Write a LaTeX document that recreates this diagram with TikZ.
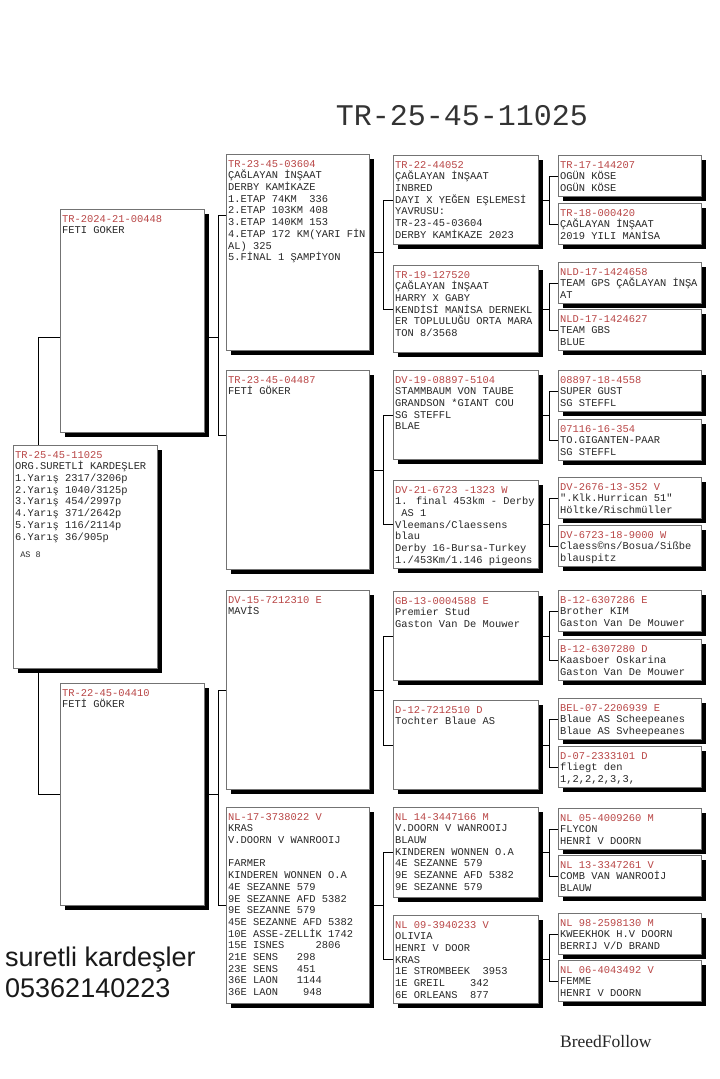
\documentclass[tikz,border=0pt]{standalone}
\usepackage{fontspec}
\setmainfont{Liberation Serif}
\newfontfamily\pedmono{Liberation Mono}
\newfontfamily\ownersans{Liberation Sans}
\usetikzlibrary{shadows}
\definecolor{idred}{RGB}{185,70,70}
\definecolor{ink}{RGB}{40,40,40}
\newcommand\pedfont{\pedmono\fontsize{10.4}{11.7}\selectfont}
\newcommand\ringno[1]{\textcolor{idred}{#1}\\}

\begin{document}
\begin{tikzpicture}[x=1pt, y=-1pt,
  frame/.style={draw=black!55, fill=white, line width=0.8pt, inner sep=0pt, anchor=north west, drop shadow={shadow xshift=5pt, shadow yshift=-5pt, fill=black, opacity=1}},
  gonebox/.style={frame, minimum width=144pt, minimum height=223pt},
  gthreebox/.style={frame, minimum width=143pt, minimum height=197pt},
  gfourbox/.style={frame, minimum width=145pt, minimum height=89pt},
  gfivebox/.style={frame, minimum width=143pt, minimum height=41pt},
  info/.style={anchor=north west, inner xsep=2pt, inner ysep=6pt, align=left, font=\pedfont, text=ink},
  link/.style={draw=black, line width=0.7pt}]

\fill[white] (0,0) rectangle (720,1079);
\useasboundingbox (0,0) rectangle (720,1079);

\node[font=\pedmono\fontsize{30}{36}\selectfont, text=black!80] (title) at (462,116) {TR-25-45-11025};

% parents
\node[gonebox] (n00448) at (60,209) {};
\node[info] (t00448) at (n00448.north west) {\ringno{TR-2024-21-00448}FETI GOKER};
\node[gonebox, minimum height=222pt] (n04410) at (60,683) {};
\node[info] (t04410) at (n04410.north west) {\ringno{TR-22-45-04410}FETİ GÖKER};

\draw[link] ([yshift=-16pt]n00448.west) -- ++(-22,0) |- (n04410.west);

% subject
\node[gonebox] (n11025) at (13,445) {};
\node[info] (t11025) at (n11025.north west) {\ringno{TR-25-45-11025}ORG.SURETLİ KARDEŞLER\\1.Yarış 2317/3206p\\2.Yarış 1040/3125p\\3.Yarış 454/2997p\\4.Yarış 371/2642p\\5.Yarış 116/2114p\\6.Yarış 36/905p\\[6pt]{\fontsize{8.5}{10}\selectfont~AS 8}};

% grandparents
\node[gthreebox, minimum height=196pt] (n03604) at (226,154) {};
\node[info] (t03604) at (n03604.north west) {\ringno{TR-23-45-03604}ÇAĞLAYAN İNŞAAT\\DERBY KAMİKAZE\\1.ETAP 74KM~~336\\2.ETAP 103KM 408\\3.ETAP 140KM 153\\4.ETAP 172 KM(YARI FİN\\AL) 325\\5.FİNAL 1 ŞAMPİYON};
\node[gthreebox, minimum height=199pt] (n04487) at (226,370) {};
\node[info] (t04487) at (n04487.north west) {\ringno{TR-23-45-04487}FETİ GÖKER};
\node[gthreebox, minimum height=199pt] (n7212310) at (226,590) {};
\node[info] (t7212310) at (n7212310.north west) {\ringno{DV-15-7212310 E}MAVİS};
\node[gthreebox, minimum height=196pt] (n3738022) at (226,807) {};
\node[info] (t3738022) at (n3738022.north west) {\ringno{NL-17-3738022 V}KRAS\\V.DOORN V WANROOIJ\\[11.7pt]FARMER\\KINDEREN WONNEN O.A\\4E SEZANNE 579\\9E SEZANNE AFD 5382\\9E SEZANNE 579\\45E SEZANNE AFD 5382\\10E ASSE-ZELLİK 1742\\15E ISNES~~~~~2806\\21E SENS~~~298\\23E SENS~~~451\\36E LAON~~~1144\\36E LAON~~~~948};

% great-grandparents
\node[gfourbox] (n44052) at (393,155) {};
\node[info] (t44052) at (n44052.north west) {\ringno{TR-22-44052}ÇAĞLAYAN İNŞAAT\\INBRED\\DAYI X YEĞEN EŞLEMESİ\\YAVRUSU:\\TR-23-45-03604\\DERBY KAMİKAZE 2023};
\node[gfourbox, minimum height=87pt] (n127520) at (393,265) {};
\node[info] (t127520) at (n127520.north west) {\ringno{TR-19-127520}ÇAĞLAYAN İNŞAAT\\HARRY X GABY\\KENDİSİ MANİSA DERNEKL\\ER TOPLULUĞU ORTA MARA\\TON 8/3568};
\node[gfourbox] (n5104) at (393,370) {};
\node[info] (t5104) at (n5104.north west) {\ringno{DV-19-08897-5104}STAMMBAUM VON TAUBE\\GRANDSON *GIANT COU\\SG STEFFL\\BLAE};
\node[gfourbox, minimum height=88pt] (n1323) at (393,480) {};
\node[info] (t1323) at (n1323.north west) {\ringno{DV-21-6723 -1323 W}1. final 453km - Derby\\~AS 1\\Vleemans/Claessens\\blau\\Derby 16-Bursa-Turkey\\1./453Km/1.146 pigeons};
\node[gfourbox] (n0004588) at (393,591) {};
\node[info] (t0004588) at (n0004588.north west) {\ringno{GB-13-0004588 E}Premier Stud\\Gaston Van De Mouwer};
\node[gfourbox] (n7212510) at (393,700) {};
\node[info] (t7212510) at (n7212510.north west) {\ringno{D-12-7212510 D}Tochter Blaue AS};
\node[gfourbox, minimum height=90pt] (n3447166) at (393,807) {};
\node[info] (t3447166) at (n3447166.north west) {\ringno{NL 14-3447166 M}V.DOORN V WANROOIJ\\BLAUW\\KINDEREN WONNEN O.A\\4E SEZANNE 579\\9E SEZANNE AFD 5382\\9E SEZANNE 579};
\node[gfourbox, minimum height=88pt] (n3940233) at (393,915) {};
\node[info] (t3940233) at (n3940233.north west) {\ringno{NL 09-3940233 V}OLIVIA\\HENRI V DOOR\\KRAS\\1E STROMBEEK~~3953\\1E GREIL~~~~342\\6E ORLEANS~~877};

% great-great-grandparents
\node[gfivebox] (n144207) at (558,155) {};
\node[info] (t144207) at (n144207.north west) {\ringno{TR-17-144207}OGÜN KÖSE\\OGÜN KÖSE};
\node[gfivebox] (n000420) at (558,203) {};
\node[info] (t000420) at (n000420.north west) {\ringno{TR-18-000420}ÇAĞLAYAN İNŞAAT\\2019 YILI MANİSA};
\node[gfivebox] (n1424658) at (558,262) {};
\node[info] (t1424658) at (n1424658.north west) {\ringno{NLD-17-1424658}TEAM GPS ÇAĞLAYAN İNŞA\\AT};
\node[gfivebox] (n1424627) at (558,309) {};
\node[info] (t1424627) at (n1424627.north west) {\ringno{NLD-17-1424627}TEAM GBS\\BLUE};
\node[gfivebox] (n4558) at (558,370) {};
\node[info] (t4558) at (n4558.north west) {\ringno{08897-18-4558}SUPER GUST\\SG STEFFL};
\node[gfivebox] (n354) at (558,419) {};
\node[info] (t354) at (n354.north west) {\ringno{07116-16-354}TO.GIGANTEN-PAAR\\SG STEFFL};
\node[gfivebox] (n352) at (558,477) {};
\node[info] (t352) at (n352.north west) {\ringno{DV-2676-13-352 V}".Klk.Hurrican 51"\\Höltke/Rischmüller};
\node[gfivebox] (n9000) at (558,525) {};
\node[info] (t9000) at (n9000.north west) {\ringno{DV-6723-18-9000 W}Claess©ns/Bosua/Sißbe\\blauspitz};
\node[gfivebox] (n6307286) at (558,590) {};
\node[info] (t6307286) at (n6307286.north west) {\ringno{B-12-6307286 E}Brother KIM\\Gaston Van De Mouwer};
\node[gfivebox] (n6307280) at (558,639) {};
\node[info] (t6307280) at (n6307280.north west) {\ringno{B-12-6307280 D}Kaasboer Oskarina\\Gaston Van De Mouwer};
\node[gfivebox] (n2206939) at (558,698) {};
\node[info] (t2206939) at (n2206939.north west) {\ringno{BEL-07-2206939 E}Blaue AS Scheepeanes\\Blaue AS Svheepeanes};
\node[gfivebox] (n2333101) at (558,746) {};
\node[info] (t2333101) at (n2333101.north west) {\ringno{D-07-2333101 D}fliegt den\\1,2,2,2,3,3,};
\node[gfivebox] (n4009260) at (558,808) {};
\node[info] (t4009260) at (n4009260.north west) {\ringno{NL 05-4009260 M}FLYCON\\HENRİ V DOORN};
\node[gfivebox] (n3347261) at (558,855) {};
\node[info] (t3347261) at (n3347261.north west) {\ringno{NL 13-3347261 V}COMB VAN WANROOİJ\\BLAUW};
\node[gfivebox] (n2598130) at (558,913) {};
\node[info] (t2598130) at (n2598130.north west) {\ringno{NL 98-2598130 M}KWEEKHOK H.V DOORN\\BERRIJ V/D BRAND};
\node[gfivebox] (n4043492) at (558,960) {};
\node[info] (t4043492) at (n4043492.north west) {\ringno{NL 06-4043492 V}FEMME\\HENRI V DOORN};

% parents -> grandparents
\draw[link] ([yshift=-16pt]n00448.east) -- ++(14,0);
\draw[link] ([yshift=-61pt]n03604.north west) -- ++(-8,0) |- ([yshift=-65pt]n04487.north west);
\draw[link] (n04410.east) -- ++(14,0);
\draw[link] (n7212310.west) -- ++(-8,0) |- (n3738022.west);

% grandparents -> great-grandparents
\draw[link] (n03604.east) -- ++(14,0);
\draw[link] (n44052.west) -- ++(-10,0) |- (n127520.west);
\draw[link] (n04487.east) -- ++(14,0);
\draw[link] (n5104.west) -- ++(-10,0) |- (n1323.west);
\draw[link] (n7212310.east) -- ++(14,0);
\draw[link] (n0004588.west) -- ++(-10,0) |- (n7212510.west);
\draw[link] (n3738022.east) -- ++(14,0);
\draw[link] (n3447166.west) -- ++(-10,0) |- (n3940233.west);

% great-grandparents -> great-great-grandparents
\draw[link] (n44052.east) -- ++(11,0);
\draw[link] (n144207.west) -- ++(-9,0) |- (n000420.west);
\draw[link] (n127520.east) -- ++(11,0);
\draw[link] (n1424658.west) -- ++(-9,0) |- (n1424627.west);
\draw[link] (n5104.east) -- ++(11,0);
\draw[link] (n4558.west) -- ++(-9,0) |- (n354.west);
\draw[link] (n1323.east) -- ++(11,0);
\draw[link] (n352.west) -- ++(-9,0) |- (n9000.west);
\draw[link] (n0004588.east) -- ++(11,0);
\draw[link] (n6307286.west) -- ++(-9,0) |- (n6307280.west);
\draw[link] (n7212510.east) -- ++(11,0);
\draw[link] (n2206939.west) -- ++(-9,0) |- (n2333101.west);
\draw[link] (n3447166.east) -- ++(11,0);
\draw[link] (n4009260.west) -- ++(-9,0) |- (n3347261.west);
\draw[link] (n3940233.east) -- ++(11,0);
\draw[link] (n2598130.west) -- ++(-9,0) |- (n4043492.west);

% owner and footer
\node[anchor=base west, inner sep=0pt, font=\ownersans\fontsize{27}{30}\selectfont, text=black!90] (owner) at (5,966) {suretli kardeşler};
\node[anchor=base west, inner sep=0pt, font=\ownersans\fontsize{27}{30}\selectfont, text=black!90] (phone) at (5,997) {05362140223};
\node[anchor=base west, inner sep=0pt, font=\rmfamily\fontsize{17.5}{20}\selectfont, text=black!85] (brand) at (560,1047) {BreedFollow};

\end{tikzpicture}
\end{document}
